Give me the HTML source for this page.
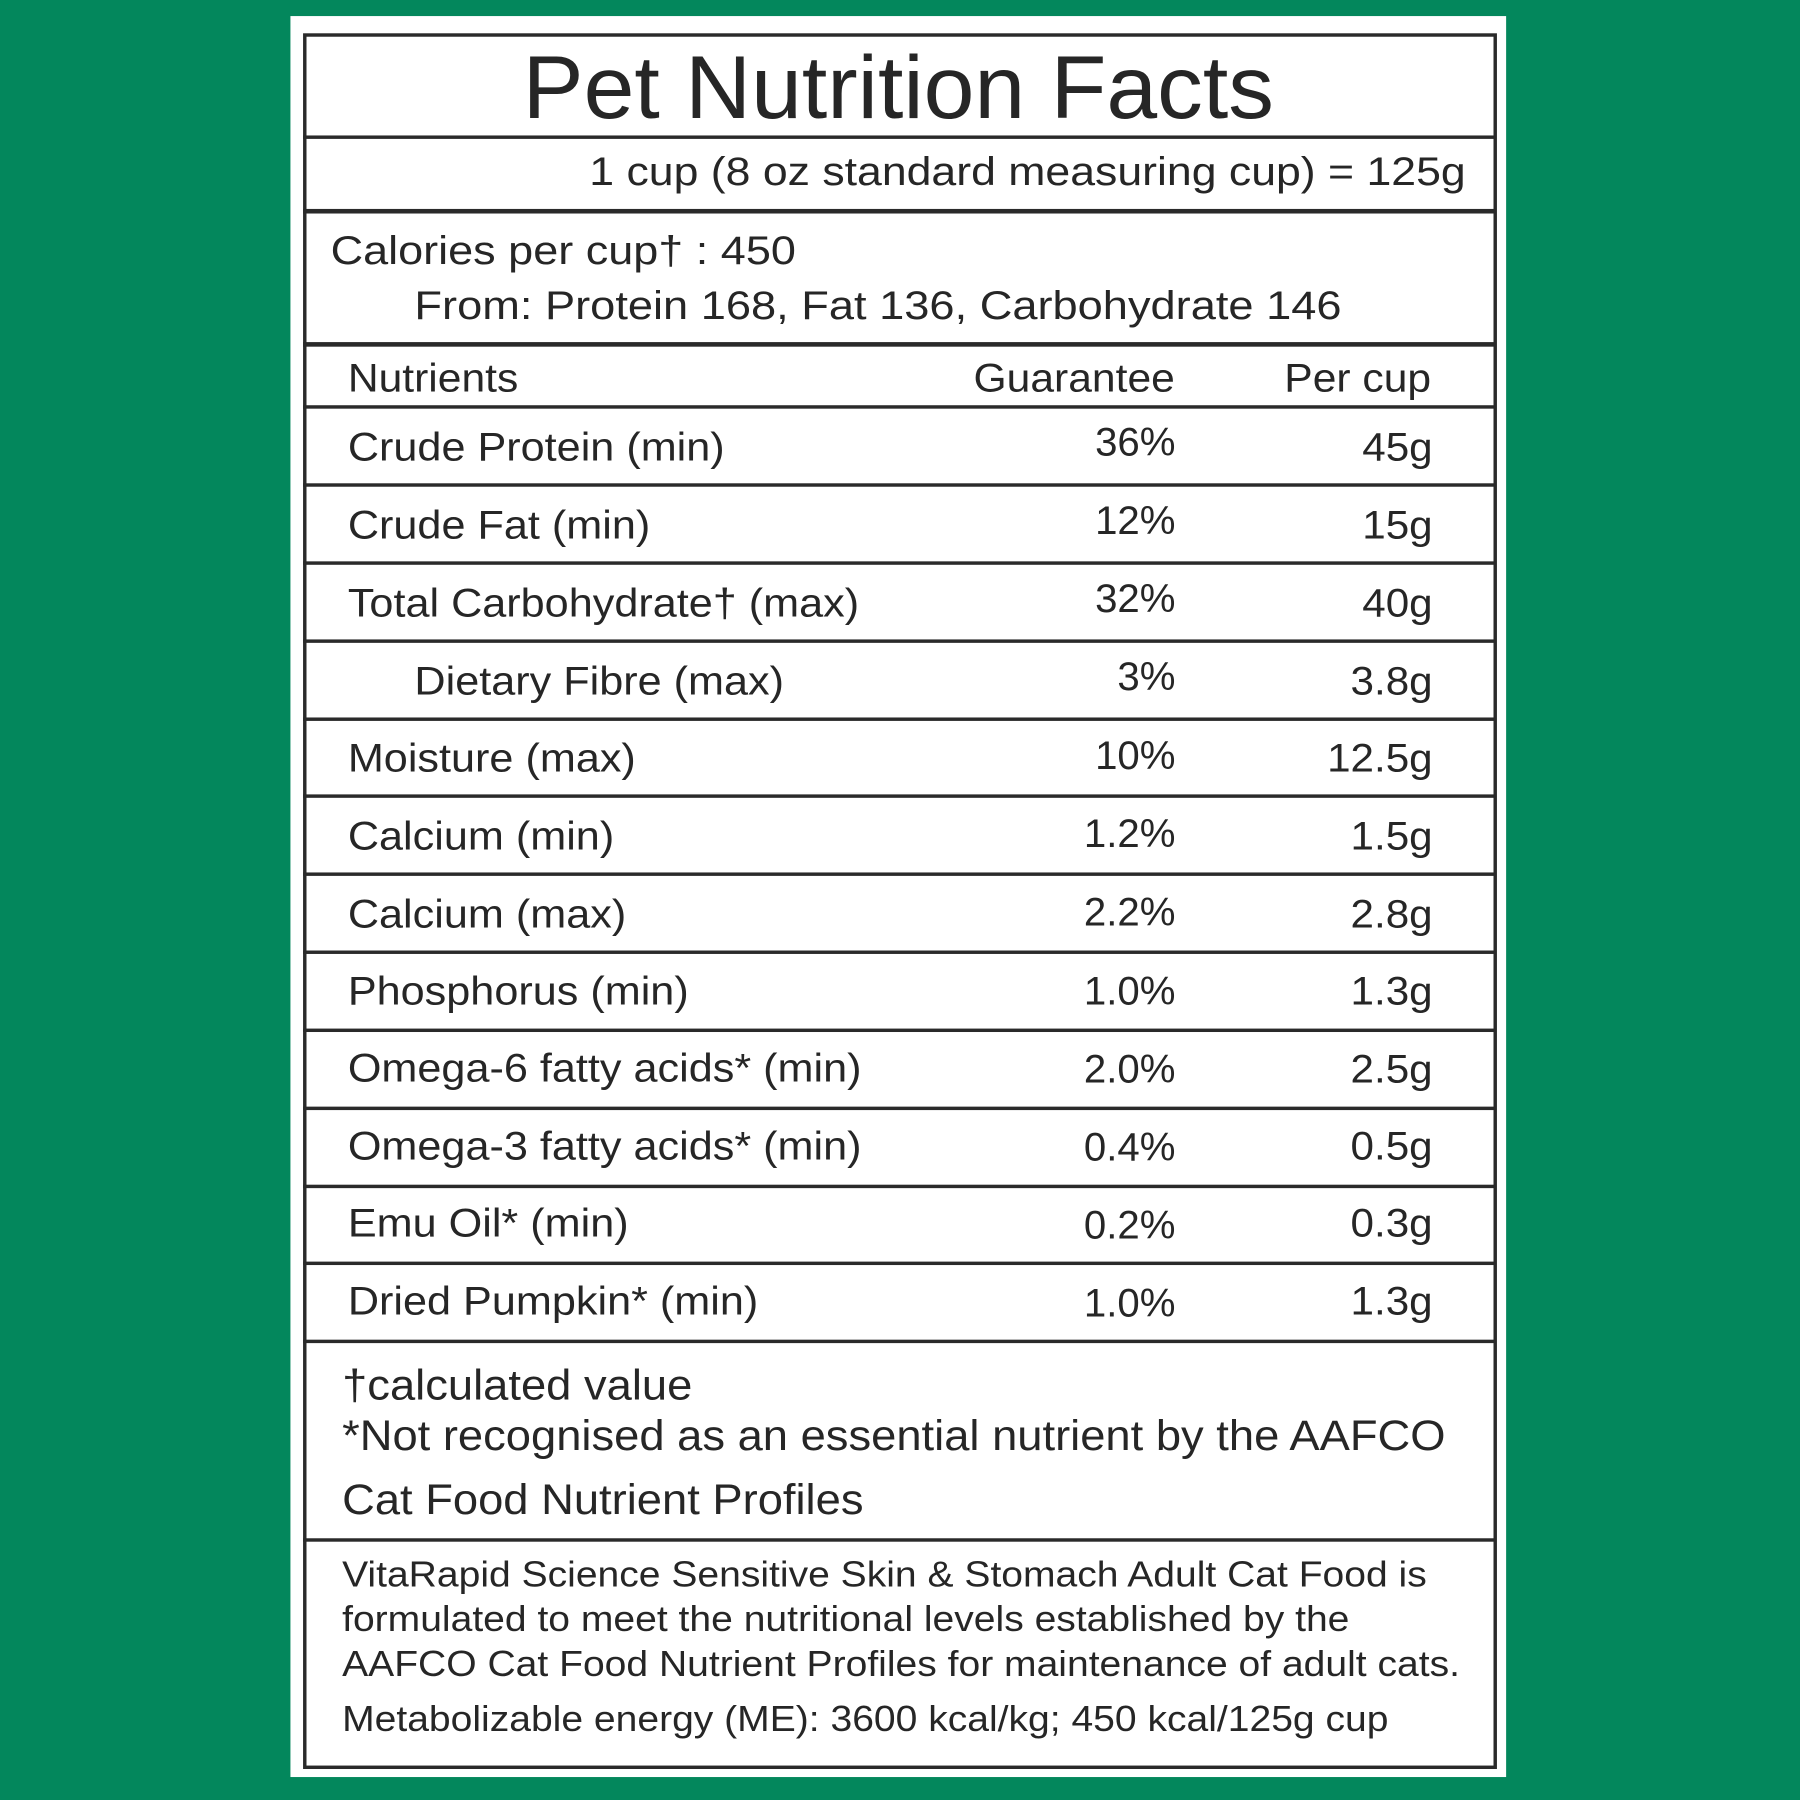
<!DOCTYPE html>
<html><head><meta charset="utf-8"><style>
html,body{margin:0;padding:0;background:#03875c;width:1800px;height:1800px;overflow:hidden}
#s{position:absolute;left:0;top:0;width:1568px;height:1568px;transform:scale(1.147959);transform-origin:0 0;font-family:"Liberation Sans",sans-serif;color:#262626}
.card{position:absolute;left:253px;top:14px;width:1059px;height:1534px;background:#fff}
.box{position:absolute;left:264px;top:29px;width:1034px;height:1506px;border:3px solid #2a2a2a}
.h{position:absolute;left:264px;width:1037px;background:#2a2a2a}
.t{position:absolute;line-height:1;white-space:nowrap;transform-origin:0 0}
.r{text-align:right;transform-origin:100% 0}
.n{transform:scaleX(1.075)}
.p{transform:scaleX(1.05)}
</style></head><body><div id="s">
<div class="card"></div>
<div class="box"></div>
<div class="h" style="top:118px;height:3px"></div>
<div class="h" style="top:182px;height:4px"></div>
<div class="h" style="top:298px;height:4px"></div>
<div class="h" style="top:353px;height:3px"></div>
<div class="h" style="top:421px;height:3px"></div>
<div class="h" style="top:489px;height:3px"></div>
<div class="h" style="top:557px;height:3px"></div>
<div class="h" style="top:625px;height:3px"></div>
<div class="h" style="top:692px;height:3px"></div>
<div class="h" style="top:760px;height:3px"></div>
<div class="h" style="top:828px;height:3px"></div>
<div class="h" style="top:896px;height:3px"></div>
<div class="h" style="top:964px;height:3px"></div>
<div class="h" style="top:1032px;height:3px"></div>
<div class="h" style="top:1099px;height:3px"></div>
<div class="h" style="top:1167px;height:3px"></div>
<div class="h" style="top:1340px;height:3px"></div>

<div class="t" style="left:264px;width:1037px;text-align:center;top:37px;font-size:78px;transform:scaleX(1.02);transform-origin:50% 0">Pet Nutrition Facts</div>
<div class="t r" style="right:291px;top:132px;font-size:35px;transform:scaleX(1.11)">1 cup (8 oz standard measuring cup) = 125g</div>
<div class="t" style="left:288px;top:201px;font-size:35px;transform:scaleX(1.12)">Calories per cup† : 450</div>
<div class="t" style="left:361px;top:249px;font-size:35px;transform:scaleX(1.125)">From: Protein 168, Fat 136, Carbohydrate 146</div>

<div class="t" style="left:303px;top:312px;font-size:35px;transform:scaleX(1.06)">Nutrients</div>
<div class="t r" style="right:545px;top:312px;font-size:35px;transform:scaleX(1.06)">Guarantee</div>
<div class="t r" style="right:321px;top:312px;font-size:35px;transform:scaleX(1.06)">Per cup</div>

<div style="position:absolute;left:0;top:0;font-size:35px">
<div class="t n" style="left:303px;top:372px">Crude Protein (min)</div><div class="t r" style="left:940px;width:84px;top:368px">36%</div><div class="t r p" style="left:1100px;width:148px;top:372px">45g</div>
<div class="t n" style="left:303px;top:440px">Crude Fat (min)</div><div class="t r" style="left:940px;width:84px;top:436px">12%</div><div class="t r p" style="left:1100px;width:148px;top:440px">15g</div>
<div class="t n" style="left:303px;top:508px">Total Carbohydrate† (max)</div><div class="t r" style="left:940px;width:84px;top:504px">32%</div><div class="t r p" style="left:1100px;width:148px;top:508px">40g</div>
<div class="t n" style="left:361px;top:576px">Dietary Fibre (max)</div><div class="t r" style="left:940px;width:84px;top:572px">3%</div><div class="t r p" style="left:1100px;width:148px;top:576px">3.8g</div>
<div class="t n" style="left:303px;top:643px">Moisture (max)</div><div class="t r" style="left:900px;width:124px;top:641px">10%</div><div class="t r p" style="left:1100px;width:148px;top:643px">12.5g</div>
<div class="t n" style="left:303px;top:711px">Calcium (min)</div><div class="t r" style="left:900px;width:124px;top:709px">1.2%</div><div class="t r p" style="left:1100px;width:148px;top:711px">1.5g</div>
<div class="t n" style="left:303px;top:779px">Calcium (max)</div><div class="t r" style="left:900px;width:124px;top:777px">2.2%</div><div class="t r p" style="left:1100px;width:148px;top:779px">2.8g</div>
<div class="t n" style="left:303px;top:846px">Phosphorus (min)</div><div class="t r" style="left:900px;width:124px;top:846px">1.0%</div><div class="t r p" style="left:1100px;width:148px;top:846px">1.3g</div>
<div class="t n" style="left:303px;top:913px">Omega-6 fatty acids* (min)</div><div class="t r" style="left:900px;width:124px;top:914px">2.0%</div><div class="t r p" style="left:1100px;width:148px;top:914px">2.5g</div>
<div class="t n" style="left:303px;top:981px">Omega-3 fatty acids* (min)</div><div class="t r" style="left:900px;width:124px;top:982px">0.4%</div><div class="t r p" style="left:1100px;width:148px;top:981px">0.5g</div>
<div class="t n" style="left:303px;top:1048px">Emu Oil* (min)</div><div class="t r" style="left:900px;width:124px;top:1050px">0.2%</div><div class="t r p" style="left:1100px;width:148px;top:1048px">0.3g</div>
<div class="t n" style="left:303px;top:1116px">Dried Pumpkin* (min)</div><div class="t r" style="left:900px;width:124px;top:1118px">1.0%</div><div class="t r p" style="left:1100px;width:148px;top:1116px">1.3g</div>
</div>

<div class="t" style="left:298px;top:1188px;font-size:37px;transform:scaleX(1.067)">†calculated value</div>
<div class="t" style="left:298px;top:1232px;font-size:37px;transform:scaleX(1.067)">*Not recognised as an essential nutrient by the AAFCO</div>
<div class="t" style="left:298px;top:1288px;font-size:37px;transform:scaleX(1.067)">Cat Food Nutrient Profiles</div>

<div class="t" style="left:298px;top:1356px;font-size:31.5px;transform:scaleX(1.08)">VitaRapid Science Sensitive Skin &amp; Stomach Adult Cat Food is</div>
<div class="t" style="left:298px;top:1395px;font-size:31.5px;transform:scaleX(1.08)">formulated to meet the nutritional levels established by the</div>
<div class="t" style="left:298px;top:1434px;font-size:31.5px;transform:scaleX(1.08)">AAFCO Cat Food Nutrient Profiles for maintenance of adult cats.</div>
<div class="t" style="left:298px;top:1482px;font-size:31.5px;transform:scaleX(1.08)">Metabolizable energy (ME): 3600 kcal/kg; 450 kcal/125g cup</div>
</div></body></html>
